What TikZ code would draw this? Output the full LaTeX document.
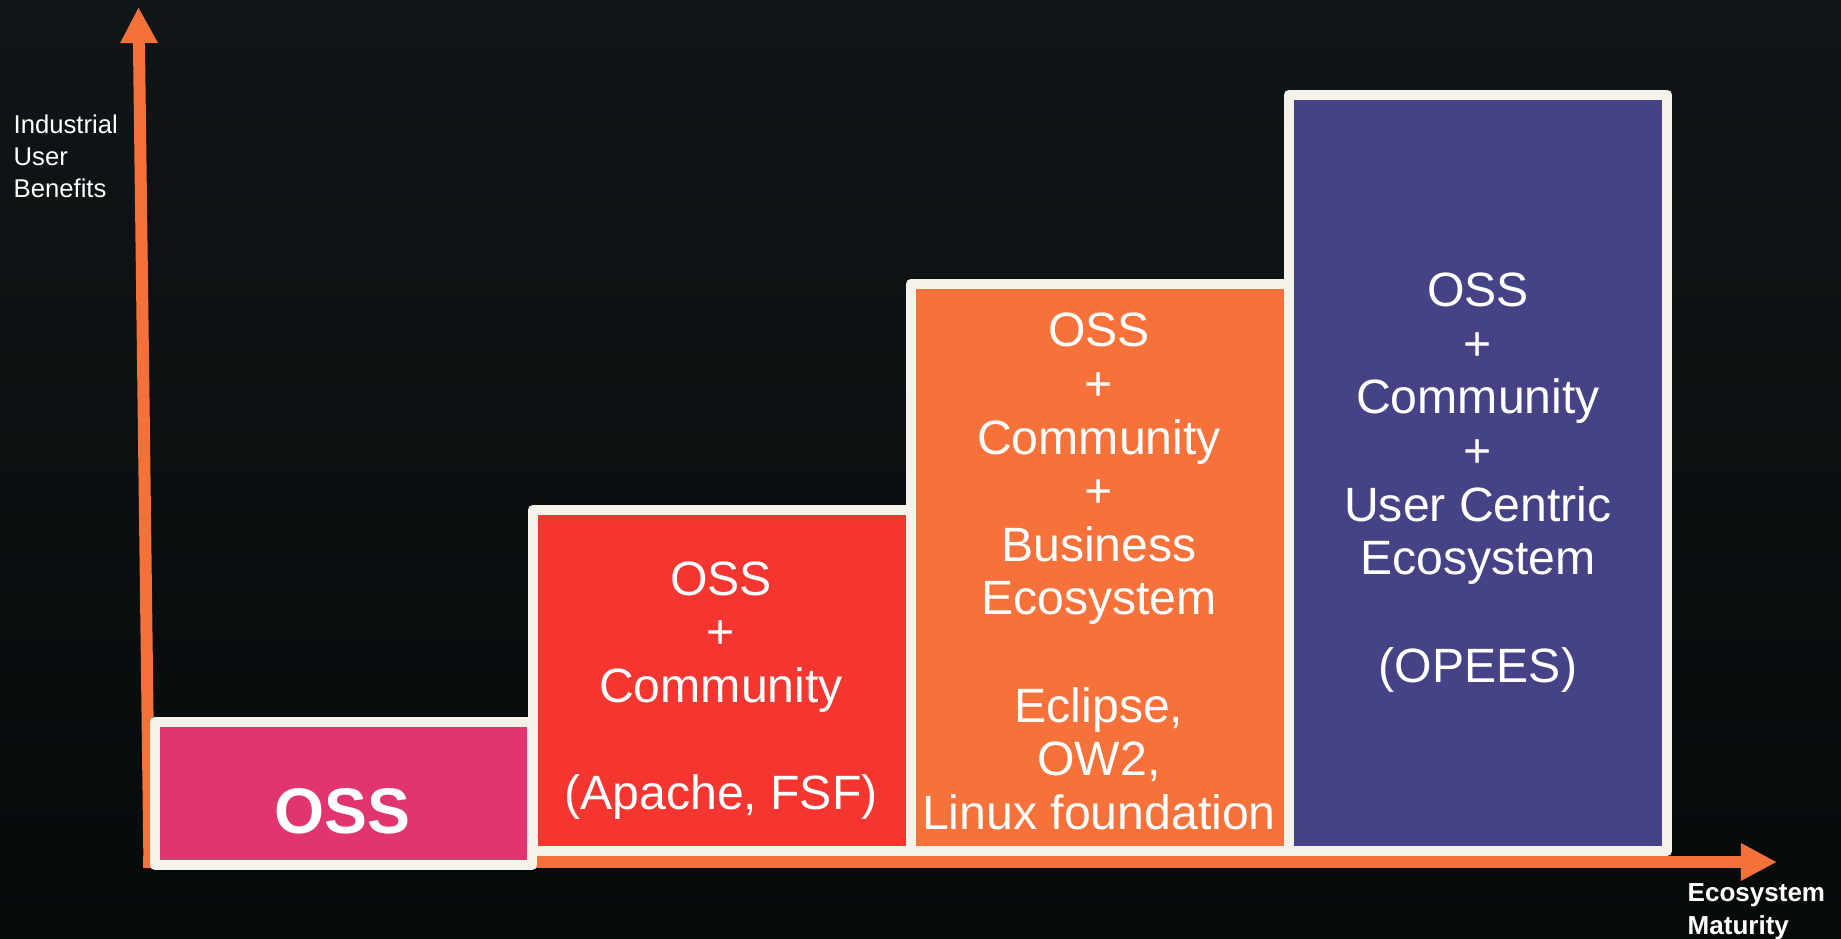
\documentclass[tikz,border=0pt]{standalone}
\usepackage{fontspec}
\setmainfont{Liberation Sans}
\usepackage{xcolor}
\usepackage{tikz}
\definecolor{bgdark}{RGB}{16, 21, 23}
\definecolor{bgmid}{RGB}{25, 32, 34}
\definecolor{bgdeep}{RGB}{7, 10, 11}
\definecolor{framecream}{RGB}{245, 242, 234}
\definecolor{ossmagenta}{RGB}{225, 53, 111}
\definecolor{communityred}{RGB}{244, 53, 48}
\definecolor{businessorange}{RGB}{246, 114, 58}
\definecolor{userpurple}{RGB}{69, 66, 134}
\definecolor{axisorange}{RGB}{245, 113, 58}
\usetikzlibrary{arrows.meta}

\begin{document}
\begin{tikzpicture}[
    x=0.01cm, y=-0.01cm,
    stairbox/.style={
        rectangle,
        draw=framecream,
        line width=0.105cm,
        line join=round,
        minimum width=3.78cm,
        inner sep=0pt
    },
    stairtext/.style={
        text=white,
        align=center,
        inner sep=0pt,
        font=\fontsize{13.7pt}{15.25pt}\selectfont
    },
    axislabel/.style={text=white, align=left, inner sep=0pt, anchor=north west},
    axis/.style={axisorange, line width=0.12cm, -{Triangle[length=0.36cm,width=0.35cm]}}
]
    \useasboundingbox (0,0) rectangle (1841,939);
    \shade[top color=bgdark, middle color=bgmid, bottom color=bgdeep] (0,0) rectangle (1841,939);

    % Axes
    \coordinate (yfoot) at (149.5,868);
    \coordinate (ytip) at (138.5,7);
    \coordinate (xfoot) at (143,862);
    \coordinate (xtip) at (1777,862);
    \draw[axis] (yfoot) -- (ytip);
    \draw[axis] (xfoot) -- (xtip);

    % Steps
    \node[stairbox, fill=communityred, minimum height=3.41cm] (community) at (722,680.5) {};
    \node[stairbox, fill=businessorange, minimum height=5.67cm] (business) at (1100,567.5) {};
    \node[stairbox, fill=userpurple, minimum height=7.56cm] (usercentric) at (1478,473) {};
    \node[stairbox, fill=ossmagenta, minimum width=3.77cm, minimum height=1.43cm] (oss) at (343.5,793.5) {};

    % Labels
    \node[stairtext, font=\fontsize{18.3pt}{20pt}\selectfont\bfseries] (osslabel) at (342,811.5) {OSS};
    \node[stairtext] (communitylabel) at (721,690.5) {OSS\\+\\Community\\[15.25pt](Apache, FSF)};
    \node[stairtext] (businesslabel) at (1099,571.5) {OSS\\+\\Community\\+\\Business\\Ecosystem\\[15.25pt]Eclipse,\\OW2,\\Linux foundation};
    \node[stairtext] (usercentriclabel) at (1478,482.5) {OSS\\+\\Community\\+\\User Centric\\Ecosystem\\[15.25pt](OPEES)};

    \node[axislabel, font=\fontsize{7.3pt}{9.1pt}\selectfont] (benefitlabel) at (13,114) {Industrial\\User\\Benefits};
    \node[axislabel, font=\fontsize{7.4pt}{9.4pt}\selectfont\bfseries] (maturitylabel) at (1687,883) {Ecosystem\\Maturity};
\end{tikzpicture}
\end{document}
